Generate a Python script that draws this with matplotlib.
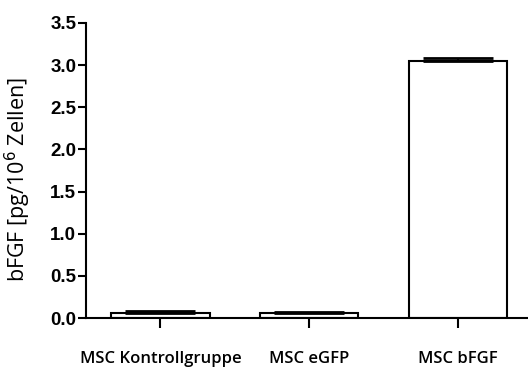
import matplotlib.pyplot as plt
import numpy as np

groups = ["MSC Kontrollgruppe", "MSC eGFP", "MSC bFGF"]
means = [0.06, 0.055, 3.05]
errors = [0.025, 0.02, 0.03]
yticks = [0.0, 0.5, 1.0, 1.5, 2.0, 2.5, 3.0, 3.5]

fig = plt.figure(figsize=(5.28, 3.69), dpi=100)
ax = fig.add_axes([0.163, 0.138, 0.837, 0.80])

x = np.arange(len(groups))
ax.bar(x, means, width=0.66, color="white", edgecolor="black", linewidth=1.5, zorder=2)
ax.errorbar(x, means, yerr=[np.zeros(len(errors)), errors], fmt="none",
            ecolor="black", elinewidth=1.5, capsize=25, capthick=2, zorder=3)

ax.set_xlim(-0.5, 2.47)
ax.set_ylim(0, 3.5)
ax.set_yticks(yticks)
ax.set_yticklabels([f"{v:.1f}" for v in yticks], fontsize=13.5, fontweight="bold",
                   family="Liberation Sans")
ax.set_xticks(x)
ax.set_xticklabels(groups, fontsize=12, fontweight="semibold", family="Open Sans")
ax.tick_params(axis="x", length=7, width=1.5, pad=17)
ax.tick_params(axis="y", length=6, width=1.5, pad=1)
ax.set_ylabel("bFGF [pg/10$^6$ Zellen]", fontsize=15.5, family="Open Sans")
ax.yaxis.set_label_coords(-0.12, 0.47)

for s in ["top", "right"]:
    ax.spines[s].set_visible(False)
for s in ["left", "bottom"]:
    ax.spines[s].set_linewidth(1.5)

fig.savefig("out.png", dpi=100)
